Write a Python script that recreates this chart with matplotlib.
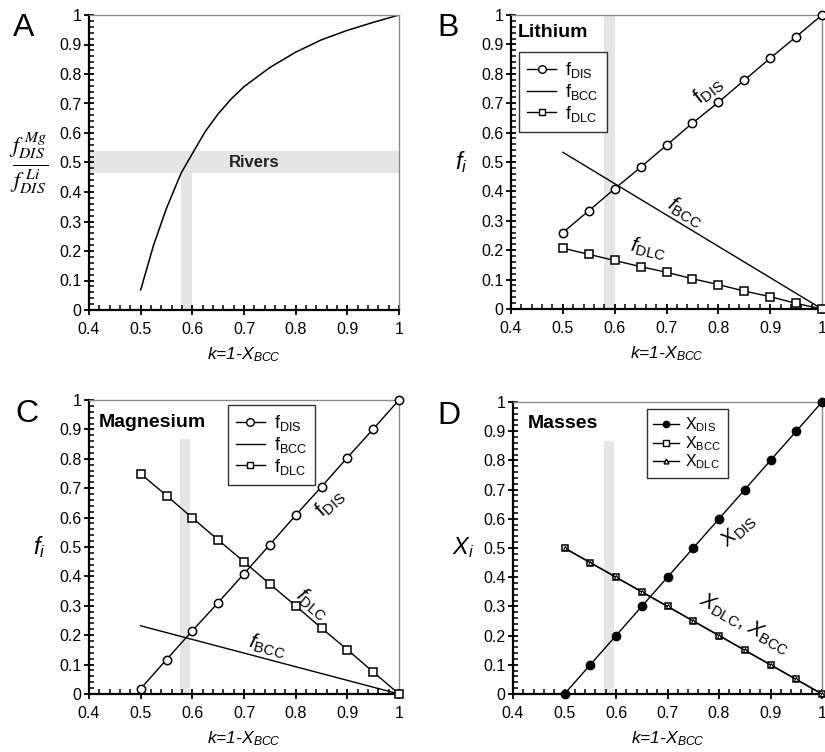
import matplotlib
matplotlib.use("Agg")
import matplotlib.pyplot as plt
from matplotlib.ticker import MultipleLocator, FuncFormatter
from matplotlib.lines import Line2D

plt.rcParams['font.family'] = ['Liberation Sans', 'DejaVu Sans']
plt.rcParams['mathtext.fontset'] = 'custom'
plt.rcParams['mathtext.rm'] = 'Liberation Sans'
plt.rcParams['mathtext.it'] = 'Liberation Sans:italic'
plt.rcParams['mathtext.bf'] = 'Liberation Sans:bold'

# ---------------- data ----------------
k = [0.5, 0.55, 0.6, 0.65, 0.7, 0.75, 0.8, 0.85, 0.9, 0.95, 1.0]

# Panel A: ratio f_DIS^Mg / f_DIS^Li
k_A = [0.5, 0.525, 0.55, 0.578, 0.6, 0.625, 0.65, 0.675, 0.7, 0.75, 0.8, 0.85, 0.9, 0.95, 1.0]
ratio_A = [0.068, 0.22, 0.345, 0.463, 0.53, 0.605, 0.665, 0.715, 0.757, 0.822, 0.874, 0.916, 0.948, 0.975, 1.0]
rivers_y = [0.463, 0.54]
rivers_k = [0.578, 0.599]

# Panel B: Lithium
li_fdis = [0.26, 0.334, 0.409, 0.482, 0.557, 0.632, 0.703, 0.778, 0.853, 0.926, 1.0]
li_fdlc = [0.207, 0.186, 0.165, 0.144, 0.125, 0.103, 0.083, 0.061, 0.042, 0.019, 0.0]
li_fbcc_k = [0.5, 1.0]
li_fbcc = [0.533, 0.0]
band_B = [0.579, 0.600]

# Panel C: Magnesium
mg_fdis = [0.018, 0.117, 0.215, 0.311, 0.409, 0.508, 0.608, 0.705, 0.804, 0.901, 1.0]
mg_fdlc = [0.749, 0.675, 0.599, 0.524, 0.45, 0.374, 0.30, 0.224, 0.151, 0.075, 0.0]
mg_fbcc_k = [0.5, 1.0]
mg_fbcc = [0.232, 0.0]
band_C = [0.577, 0.596]
band_C_top = 0.867

# Panel D: Masses
x_dis = [0.0, 0.1, 0.2, 0.3, 0.4, 0.5, 0.6, 0.7, 0.8, 0.9, 1.0]
x_bcc = [0.5, 0.45, 0.4, 0.35, 0.3, 0.25, 0.2, 0.15, 0.1, 0.05, 0.0]
x_dlc = [0.5, 0.45, 0.4, 0.35, 0.3, 0.25, 0.2, 0.15, 0.1, 0.05, 0.0]
band_D = [0.576, 0.596]
band_D_top = 0.866

BAND = '#e4e5e7'
W, H = 825, 752

fig = plt.figure(figsize=(W / 100, H / 100), dpi=100)


def make_ax(l, r, t, b):
    ax = fig.add_axes([l / W, 1 - b / H, (r - l) / W, (b - t) / H])
    ax.set_xlim(0.4, 1.0)
    ax.set_ylim(0, 1.0)
    ax.xaxis.set_major_locator(MultipleLocator(0.1))
    ax.xaxis.set_minor_locator(MultipleLocator(0.02))
    ax.yaxis.set_major_locator(MultipleLocator(0.1))
    ax.yaxis.set_minor_locator(MultipleLocator(0.02))
    fmt = FuncFormatter(lambda v, p: ('%g' % round(v, 2)))
    ax.xaxis.set_major_formatter(fmt)
    ax.yaxis.set_major_formatter(fmt)
    ax.tick_params(which='major', direction='inout', length=7, width=1.3,
                   labelsize=11.5, top=False, right=False, pad=2)
    ax.tick_params(which='minor', direction='in', length=3.5, width=1.1,
                   top=False, right=False)
    ax.tick_params(axis='x', which='major', pad=5)
    for s in ['left', 'bottom']:
        ax.spines[s].set_linewidth(1.6)
        ax.spines[s].set_color('black')
    for s in ['top', 'right']:
        ax.spines[s].set_linewidth(1.0)
        ax.spines[s].set_color('#8a8a8a')
    ax.set_xlabel('k=1-X$_{BCC}$', style='italic', fontsize=12.5, labelpad=6)
    return ax


def panel_letter(x, y, s):
    fig.text(x / W, 1 - y / H, s, fontsize=23, ha='left', va='top')


# ---------------- Panel A ----------------
axA = make_ax(89, 399, 15, 310)
axA.axhspan(rivers_y[0], rivers_y[1], color=BAND, lw=0, zorder=0)
axA.fill_between(rivers_k, 0, rivers_y[0], color=BAND, lw=0, zorder=0)
axA.plot(k_A, ratio_A, color='black', lw=1.1)
axA.text(0.72, 0.5, 'Rivers', fontsize=12, fontweight='bold', ha='center', va='center', color='#222222')
axA.set_ylabel(r'$\frac{f^{\ Mg}_{DIS}}{f^{\ Li}_{DIS}}$', rotation=0, fontsize=23,
               math_fontfamily='stix', labelpad=22, va='center')
panel_letter(13, 13, 'A')

# ---------------- Panel B ----------------
axB = make_ax(511, 822, 15, 309)
axB.axvspan(band_B[0], band_B[1], color=BAND, lw=0, zorder=0)
axB.plot(k, li_fdis, color='black', lw=1, marker='o', ms=6, mfc='white', mec='black', mew=1.1, clip_on=False, zorder=3)
axB.plot(li_fbcc_k, li_fbcc, color='black', lw=1)
axB.plot(k, li_fdlc, color='black', lw=1, marker='s', ms=5.5, mfc='white', mec='black', mew=1.1, clip_on=False, zorder=3)
axB.text(0.782, 0.745, r'f$_{\mathrm{DIS}}$', fontsize=15, rotation=38, ha='center', va='center')
axB.text(0.735, 0.33, r'$f_{\mathrm{BCC}}$', fontsize=15, rotation=-31, ha='center', va='center')
axB.text(0.665, 0.205, r'$f_{\mathrm{DLC}}$', fontsize=15, rotation=-12, ha='center', va='center')
axB.text(0.413, 0.94, 'Lithium', fontsize=14, fontweight='bold', ha='left', va='center')
axB.set_ylabel(r'$f_i$', rotation=0, fontsize=17, labelpad=14, va='center')
hB = [Line2D([], [], color='black', lw=1, marker='o', ms=5.5, mfc='white', mec='black'),
      Line2D([], [], color='black', lw=1),
      Line2D([], [], color='black', lw=1, marker='s', ms=5, mfc='white', mec='black')]
legB = axB.legend(hB, [r'f$_{\mathrm{DIS}}$', r'f$_{\mathrm{BCC}}$', r'f$_{\mathrm{DLC}}$'],
                  loc='upper left', bbox_to_anchor=(0.026, 0.874), borderaxespad=0,
                  fontsize=13, frameon=True, fancybox=False, handlelength=1.6,
                  handletextpad=0.5, labelspacing=0.1, borderpad=0.45)
legB.get_frame().set_edgecolor('black')
legB.get_frame().set_linewidth(1.0)
panel_letter(437, 13, 'B')

# ---------------- Panel C ----------------
axC = make_ax(89, 399, 400, 694)
axC.fill_between(band_C, 0, band_C_top, color=BAND, lw=0, zorder=0)
axC.plot(k, mg_fdis, color='black', lw=1, marker='o', ms=6, mfc='white', mec='black', mew=1.1, clip_on=False, zorder=3)
axC.plot(mg_fbcc_k, mg_fbcc, color='black', lw=1)
axC.plot(k, mg_fdlc, color='black', lw=1, marker='s', ms=5.5, mfc='white', mec='black', mew=1.1, clip_on=False, zorder=3)
axC.text(0.868, 0.65, r'f$_{\mathrm{DIS}}$', fontsize=15, rotation=42, ha='center', va='center')
axC.text(0.832, 0.305, r'$f_{\mathrm{DLC}}$', fontsize=15, rotation=-40, ha='center', va='center')
axC.text(0.745, 0.162, r'$f_{\mathrm{BCC}}$', fontsize=15, rotation=-15, ha='center', va='center')
axC.text(0.418, 0.925, 'Magnesium', fontsize=14, fontweight='bold', ha='left', va='center')
axC.set_ylabel(r'$f_i$', rotation=0, fontsize=17, labelpad=14, va='center')
legC = axC.legend(hB, [r'f$_{\mathrm{DIS}}$', r'f$_{\mathrm{BCC}}$', r'f$_{\mathrm{DLC}}$'],
                  loc='upper left', bbox_to_anchor=(0.448, 0.983), borderaxespad=0,
                  fontsize=13, frameon=True, fancybox=False, handlelength=1.6,
                  handletextpad=0.5, labelspacing=0.1, borderpad=0.45)
legC.get_frame().set_edgecolor('black')
legC.get_frame().set_linewidth(1.0)
panel_letter(15, 399, 'C')

# ---------------- Panel D ----------------
axD = make_ax(513, 822, 402, 694)
axD.fill_between(band_D, 0, band_D_top, color=BAND, lw=0, zorder=0)
axD.plot(k, x_dis, color='black', lw=1, marker='o', ms=6, mfc='black', mec='black', clip_on=False, zorder=3)
axD.plot(k, x_bcc, color='black', lw=1, marker='s', ms=5, mfc='white', mec='black', mew=1.1, clip_on=False, zorder=3)
axD.plot(k, x_dlc, color='black', lw=1, marker='^', ms=3, mfc='white', mec='black', mew=0.8, clip_on=False, zorder=4)
axD.text(0.838, 0.56, r'$X_{\mathrm{DIS}}$', fontsize=15, rotation=42, ha='center', va='center')
axD.text(0.85, 0.238, r'$X_{\mathrm{DLC}}$, $X_{\mathrm{BCC}}$', fontsize=15, rotation=-30, ha='center', va='center')
axD.text(0.428, 0.928, 'Masses', fontsize=14, fontweight='bold', ha='left', va='center')
axD.set_ylabel(r'$X_i$', rotation=0, fontsize=17, labelpad=14, va='center')
hD = [Line2D([], [], color='black', lw=1, marker='o', ms=4.5, mfc='black', mec='black'),
      Line2D([], [], color='black', lw=1, marker='s', ms=4, mfc='white', mec='black'),
      Line2D([], [], color='black', lw=1, marker='^', ms=3.5, mfc='white', mec='black')]
legD = axD.legend(hD, [r'X$_{\mathrm{DIS}}$', r'X$_{\mathrm{BCC}}$', r'X$_{\mathrm{DLC}}$'],
                  loc='upper left', bbox_to_anchor=(0.434, 0.976), borderaxespad=0,
                  fontsize=11.5, frameon=True, fancybox=False, handlelength=1.6,
                  handletextpad=0.4, labelspacing=0.0, borderpad=0.4)
legD.get_frame().set_edgecolor('black')
legD.get_frame().set_linewidth(1.0)
panel_letter(437, 401, 'D')

fig.savefig('out.png', dpi=100)
